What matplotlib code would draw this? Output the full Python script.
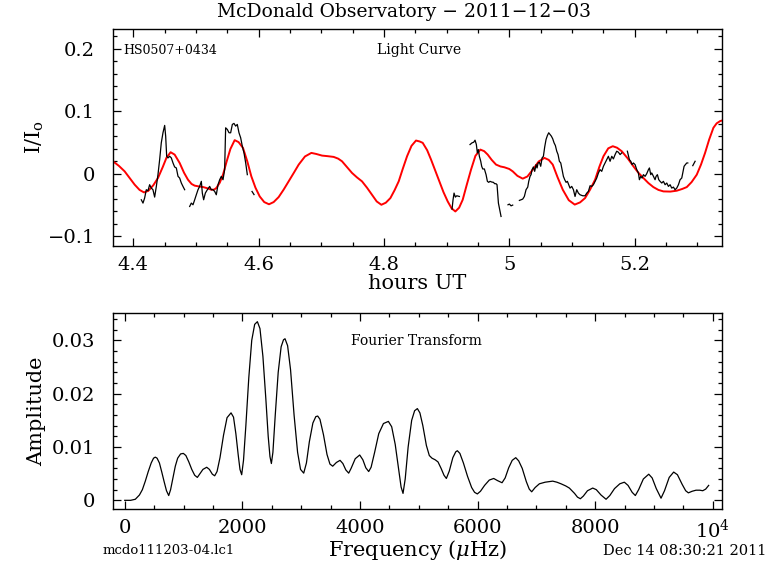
import numpy as np
import matplotlib
matplotlib.use("Agg")
import matplotlib.pyplot as plt
from matplotlib.ticker import MultipleLocator

# light curve model (red), hours UT vs I/I0
model_hours = [4.3676, 4.3770, 4.3862, 4.3945, 4.4022, 4.4100, 4.4171, 4.4240, 4.4320,
               4.4394, 4.4470, 4.4530, 4.4596, 4.4660, 4.4740, 4.4810, 4.4873, 4.4930,
               4.4980, 4.5050, 4.5113, 4.5180, 4.5245, 4.5290, 4.5325, 4.5380, 4.5432,
               4.5490, 4.5550, 4.5618, 4.5680, 4.5751, 4.5820, 4.5884, 4.5950, 4.6018,
               4.6090, 4.6166, 4.6240, 4.6320, 4.6400, 4.6480, 4.6560, 4.6640, 4.6740,
               4.6842, 4.6920, 4.7012, 4.7100, 4.7198, 4.7270, 4.7331, 4.7410, 4.7491,
               4.7570, 4.7650, 4.7730, 4.7810, 4.7885, 4.7959, 4.8030, 4.8103, 4.8170,
               4.8236, 4.8300, 4.8369, 4.8440, 4.8512, 4.8570, 4.8619, 4.8690, 4.8752,
               4.8820, 4.8885, 4.8950, 4.9018, 4.9080, 4.9140, 4.9200, 4.9257, 4.9320,
               4.9390, 4.9460, 4.9539, 4.9600, 4.9656, 4.9720, 4.9789, 4.9860, 4.9922,
               5.0000, 5.0055, 5.0130, 5.0215, 5.0290, 5.0375, 5.0470, 5.0561, 5.0630,
               5.0694, 5.0770, 5.0854, 5.0950, 5.1045, 5.1130, 5.1210, 5.1290, 5.1370,
               5.1440, 5.1503, 5.1580, 5.1652, 5.1720, 5.1795, 5.1890, 5.1981, 5.2060,
               5.2141, 5.2220, 5.2300, 5.2380, 5.2460, 5.2570, 5.2673, 5.2760, 5.2833,
               5.2910, 5.2992, 5.3060, 5.3125, 5.3190, 5.3258, 5.3310, 5.3365, 5.3400]
model_flux = [0.0203, 0.0130, 0.0042, -0.0070, -0.0171, -0.0255, -0.0295, -0.0270, -0.0180,
              -0.0065, 0.0110, 0.0260, 0.0348, 0.0310, 0.0176, 0.0020, -0.0092, -0.0160,
              -0.0187, -0.0200, -0.0209, -0.0228, -0.0252, -0.0250, -0.0225, -0.0140, -0.0011,
              0.0200, 0.0400, 0.0541, 0.0510, 0.0417, 0.0200, -0.0038, -0.0220, -0.0360,
              -0.0450, -0.0485, -0.0450, -0.0370, -0.0250, -0.0118, 0.0015, 0.0150, 0.0280,
              0.0337, 0.0320, 0.0294, 0.0285, 0.0273, 0.0245, 0.0203, 0.0110, 0.0016,
              -0.0055, -0.0118, -0.0220, -0.0333, -0.0440, -0.0493, -0.0460, -0.0386, -0.0260,
              -0.0118, 0.0080, 0.0283, 0.0450, 0.0535, 0.0520, 0.0498, 0.0380, 0.0230,
              0.0050, -0.0118, -0.0290, -0.0440, -0.0550, -0.0600, -0.0540, -0.0413, -0.0180,
              0.0069, 0.0290, 0.0390, 0.0365, 0.0310, 0.0225, 0.0150, 0.0120, 0.0107,
              0.0080, 0.0042, -0.0030, -0.0075, -0.0040, 0.0069, 0.0200, 0.0257, 0.0225,
              0.0150, -0.0050, -0.0252, -0.0420, -0.0490, -0.0455, -0.0386, -0.0250, -0.0091,
              0.0120, 0.0283, 0.0410, 0.0444, 0.0420, 0.0364, 0.0250, 0.0123, 0.0020,
              -0.0065, -0.0145, -0.0210, -0.0255, -0.0279, -0.0282, -0.0268, -0.0240, -0.0210,
              -0.0130, -0.0012, 0.0150, 0.0337, 0.0550, 0.0739, 0.0810, 0.0846, 0.0857]

# observed light curve (black), one list per continuous stretch
obs_hours = [
    [4.4128, 4.4155, 4.4181, 4.4208, 4.4235, 4.4261, 4.4288, 4.4314, 4.4341,
     4.4368, 4.4394, 4.4421, 4.4447, 4.4474, 4.4501, 4.4517, 4.4533, 4.4554,
     4.4581, 4.4607, 4.4634, 4.4660, 4.4687, 4.4714, 4.4740, 4.4767, 4.4793,
     4.4820],
    [4.4900, 4.4926, 4.4953, 4.4980, 4.5006, 4.5033, 4.5059, 4.5086, 4.5102,
     4.5123, 4.5150, 4.5182, 4.5219, 4.5245, 4.5272, 4.5299, 4.5325, 4.5352,
     4.5379, 4.5405, 4.5432, 4.5458, 4.5474, 4.5501, 4.5528, 4.5554, 4.5581,
     4.5607, 4.5634, 4.5660, 4.5687, 4.5714, 4.5740, 4.5767, 4.5794, 4.5820],
    [4.5895, 4.5927],
    [4.9087, 4.9103, 4.9119, 4.9140, 4.9162, 4.9204],
    [4.9374, 4.9406, 4.9433, 4.9454, 4.9475, 4.9491, 4.9507, 4.9523, 4.9545,
     4.9560, 4.9577, 4.9603, 4.9630, 4.9651, 4.9672, 4.9693, 4.9720, 4.9747,
     4.9768, 4.9789, 4.9805, 4.9827, 4.9848, 4.9869],
    [4.9980, 5.0002, 5.0029, 5.0055],
    [5.0162, 5.0188, 5.0215, 5.0241, 5.0268, 5.0295, 5.0311, 5.0332, 5.0348,
     5.0364, 5.0385, 5.0406, 5.0428, 5.0444, 5.0460, 5.0481, 5.0502, 5.0524,
     5.0545, 5.0566, 5.0587, 5.0609, 5.0630, 5.0651, 5.0672, 5.0694, 5.0715,
     5.0736, 5.0758, 5.0779, 5.0800, 5.0822, 5.0843, 5.0864, 5.0885, 5.0907,
     5.0928, 5.0949, 5.0970, 5.0997, 5.1024, 5.1050, 5.1077, 5.1103, 5.1130,
     5.1173, 5.1210, 5.1237, 5.1263, 5.1290, 5.1316, 5.1343, 5.1370, 5.1396,
     5.1423, 5.1449, 5.1476, 5.1503, 5.1529, 5.1556, 5.1582, 5.1609, 5.1636,
     5.1662, 5.1689, 5.1715, 5.1742, 5.1769, 5.1795],
    [5.1885, 5.1917, 5.1939, 5.1960, 5.1981, 5.2008, 5.2035, 5.2061, 5.2077,
     5.2099, 5.2120, 5.2141, 5.2168, 5.2194, 5.2221, 5.2237, 5.2258, 5.2274,
     5.2301, 5.2327, 5.2343, 5.2364, 5.2386, 5.2407, 5.2434, 5.2460, 5.2487,
     5.2514, 5.2540, 5.2567, 5.2593, 5.2620, 5.2646, 5.2673, 5.2700, 5.2726,
     5.2753, 5.2769, 5.2790, 5.2811, 5.2833, 5.2849],
    [5.2929, 5.2966],
]
obs_flux = [
    [-0.0413, -0.0466, -0.0386, -0.0252, -0.0268, -0.0172, -0.0226, -0.0252,
     -0.0370, -0.0199, -0.0011, 0.0230, 0.0498, 0.0659, 0.0777, 0.0605, 0.0283,
     0.0257, 0.0283, 0.0257, 0.0176, 0.0112, 0.0096, -0.0038, -0.0065, -0.0145,
     -0.0199, -0.0252],
    [-0.0520, -0.0466, -0.0493, -0.0413, -0.0333, -0.0252, -0.0199, -0.0118,
     -0.0306, -0.0413, -0.0306, -0.0252, -0.0199, -0.0252, -0.0252, -0.0279,
     -0.0333, -0.0172, -0.0092, -0.0038, -0.0092, 0.0069, 0.0739, 0.0712,
     0.0659, 0.0659, 0.0793, 0.0809, 0.0766, 0.0793, 0.0659, 0.0578, 0.0444,
     0.0337, 0.0176, -0.0011],
    [-0.0280, -0.0330],
    [-0.0563, -0.0413, -0.0306, -0.0370, -0.0349, -0.0360],
    [0.0471, 0.0498, 0.0508, 0.0541, 0.0471, 0.0337, 0.0390, 0.0283, 0.0203,
     0.0123, 0.0080, 0.0080, -0.0011, -0.0118, -0.0134, -0.0118, -0.0129,
     -0.0134, -0.0156, -0.0156, -0.0172, -0.0466, -0.0573, -0.0680],
    [-0.0493, -0.0482, -0.0510, -0.0498],
    [-0.0423, -0.0413, -0.0402, -0.0360, -0.0252, -0.0210, -0.0118, -0.0038,
     -0.0011, 0.0069, 0.0112, 0.0042, 0.0150, 0.0096, 0.0176, 0.0187, 0.0123,
     0.0257, 0.0283, 0.0434, 0.0551, 0.0616, 0.0659, 0.0632, 0.0605, 0.0562,
     0.0498, 0.0455, 0.0364, 0.0310, 0.0203, 0.0176, 0.0069, -0.0038, -0.0092,
     -0.0134, -0.0118, -0.0172, -0.0226, -0.0199, -0.0252, -0.0360, -0.0252,
     -0.0306, -0.0333, -0.0349, -0.0349, -0.0306, -0.0279, -0.0188, -0.0199,
     -0.0172, -0.0118, -0.0065, 0.0016, 0.0069, 0.0042, 0.0123, 0.0176, 0.0230,
     0.0283, 0.0203, 0.0283, 0.0241, 0.0310, 0.0364, 0.0348, 0.0310, 0.0337],
    [0.0364, 0.0230, 0.0203, 0.0150, 0.0176, 0.0150, 0.0069, 0.0016, -0.0092,
     -0.0038, -0.0065, -0.0011, -0.0038, 0.0005, 0.0069, 0.0096, -0.0011,
     0.0016, -0.0038, -0.0092, -0.0038, -0.0011, -0.0092, -0.0118, -0.0145,
     -0.0118, -0.0172, -0.0145, -0.0199, -0.0172, -0.0226, -0.0210, -0.0252,
     -0.0226, -0.0172, -0.0092, -0.0065, 0.0016, 0.0123, 0.0150, 0.0176,
     0.0176],
    [0.0133, 0.0203],
]

# Fourier transform, frequency (uHz) vs amplitude
ft_freq = [0, 100, 180, 250, 300, 350, 400, 450, 490, 520, 550, 590, 630, 670, 710,
           748, 780, 820, 860, 900, 950, 997, 1040, 1090, 1140, 1190, 1235, 1280,
           1330, 1394, 1440, 1490, 1530, 1570, 1620, 1680, 1740, 1808, 1850, 1890,
           1930, 1960, 1989, 2020, 2060, 2110, 2160, 2210, 2256, 2300, 2350, 2400,
           2440, 2470, 2494, 2520, 2560, 2610, 2660, 2700, 2726, 2770, 2820, 2880,
           2940, 2990, 3044, 3090, 3140, 3200, 3250, 3282, 3320, 3380, 3440, 3490,
           3537, 3600, 3662, 3710, 3760, 3809, 3850, 3920, 3996, 4050, 4100, 4149,
           4190, 4250, 4320, 4400, 4484, 4540, 4600, 4650, 4700, 4733, 4770, 4820,
           4880, 4930, 4977, 5020, 5070, 5130, 5180, 5226, 5280, 5328, 5380, 5430,
           5470, 5520, 5580, 5630, 5657, 5700, 5760, 5830, 5900, 5950, 5997, 6050,
           6120, 6200, 6275, 6340, 6417, 6470, 6530, 6590, 6650, 6700, 6760, 6830,
           6880, 6921, 6980, 7052, 7150, 7279, 7350, 7420, 7500, 7562, 7650, 7700,
           7749, 7800, 7870, 7959, 8020, 8100, 8186, 8250, 8330, 8420, 8497, 8560,
           8630, 8684, 8740, 8820, 8912, 8970, 9040, 9121, 9180, 9260, 9336, 9400,
           9480, 9540, 9586, 9650, 9716, 9780, 9830, 9880, 9931]
ft_amp = [0.0000, 0.0000, 0.0002, 0.0010, 0.0020, 0.0036, 0.0054, 0.0070, 0.0079,
          0.0081, 0.0079, 0.0070, 0.0053, 0.0035, 0.0018, 0.0009, 0.0020, 0.0042,
          0.0064, 0.0079, 0.0087, 0.0088, 0.0084, 0.0072, 0.0058, 0.0047, 0.0043,
          0.0050, 0.0058, 0.0062, 0.0058, 0.0049, 0.0046, 0.0054, 0.0080, 0.0122,
          0.0155, 0.0164, 0.0156, 0.0125, 0.0085, 0.0058, 0.0048, 0.0075, 0.0140,
          0.0230, 0.0300, 0.0330, 0.0335, 0.0322, 0.0270, 0.0190, 0.0120, 0.0082,
          0.0069, 0.0090, 0.0160, 0.0240, 0.0288, 0.0301, 0.0303, 0.0290, 0.0245,
          0.0160, 0.0090, 0.0058, 0.0051, 0.0070, 0.0110, 0.0145, 0.0157, 0.0158,
          0.0152, 0.0123, 0.0086, 0.0068, 0.0064, 0.0071, 0.0075, 0.0069, 0.0057,
          0.0051, 0.0060, 0.0078, 0.0085, 0.0076, 0.0061, 0.0054, 0.0062, 0.0090,
          0.0125, 0.0144, 0.0148, 0.0138, 0.0105, 0.0065, 0.0025, 0.0013, 0.0040,
          0.0100, 0.0150, 0.0168, 0.0172, 0.0164, 0.0140, 0.0103, 0.0084, 0.0079,
          0.0076, 0.0072, 0.0060, 0.0047, 0.0041, 0.0055, 0.0080, 0.0091, 0.0093,
          0.0088, 0.0070, 0.0045, 0.0024, 0.0015, 0.0012, 0.0017, 0.0028, 0.0038,
          0.0041, 0.0037, 0.0033, 0.0042, 0.0061, 0.0075, 0.0080, 0.0074, 0.0060,
          0.0035, 0.0021, 0.0016, 0.0024, 0.0031, 0.0034, 0.0036, 0.0034, 0.0031,
          0.0027, 0.0023, 0.0013, 0.0006, 0.0003, 0.0008, 0.0018, 0.0023, 0.0020,
          0.0010, 0.0002, 0.0009, 0.0022, 0.0031, 0.0034, 0.0028, 0.0015, 0.0009,
          0.0020, 0.0040, 0.0049, 0.0042, 0.0022, 0.0004, 0.0018, 0.0043, 0.0053,
          0.0048, 0.0030, 0.0018, 0.0014, 0.0017, 0.0019, 0.0019, 0.0018, 0.0021,
          0.0028]

lc_ticks = [4.4, 4.6, 4.8, 5.0, 5.2]
lc_ticklabels = ["4.4", "4.6", "4.8", "5", "5.2"]
flux_ticks = [-0.1, 0, 0.1, 0.2]
flux_ticklabels = ["\u22120.1", "0", "0.1", "0.2"]
ft_ticks = [0, 2000, 4000, 6000, 8000, 10000]
ft_ticklabels = ["0", "2000", "4000", "6000", "8000", "10$^4$"]
amp_ticks = [0, 0.01, 0.02, 0.03]
amp_ticklabels = ["0", "0.01", "0.02", "0.03"]

plt.rcParams["font.family"] = ["DejaVu Serif"]
plt.rcParams["mathtext.fontset"] = "dejavuserif"

fig = plt.figure(figsize=(7.68, 5.74), dpi=100)
ax1 = fig.add_axes([0.1471, 0.5714, 0.7934, 0.3781])
ax2 = fig.add_axes([0.1471, 0.1132, 0.7934, 0.3420])


def style_axes(ax):
    for sp in ax.spines.values():
        sp.set_linewidth(1.0)
    ax.tick_params(which="both", direction="in", top=True, right=True,
                   width=0.9, labelsize=14)
    ax.tick_params(which="major", length=6)
    ax.tick_params(axis="x", which="major", pad=7)
    ax.tick_params(axis="y", which="major", pad=13)
    ax.tick_params(which="minor", length=3)


ax1.plot(model_hours, model_flux, color="#ff0000", lw=1.4)
for h, f in zip(obs_hours, obs_flux):
    ax1.plot(h, f, color="black", lw=0.9)
ax1.set_xlim(4.3676, 5.34)
ax1.set_ylim(-0.1153, 0.232)
ax1.set_xticks(lc_ticks, lc_ticklabels)
ax1.set_yticks(flux_ticks, flux_ticklabels)
ax1.xaxis.set_minor_locator(MultipleLocator(0.05))
ax1.yaxis.set_minor_locator(MultipleLocator(0.02))
style_axes(ax1)
ax1.set_xlabel("hours UT", fontsize=15, labelpad=0)
ax1.set_ylabel("I/I$_{\\rm o}$", fontsize=15, labelpad=1)
ax1.text(0.0164, 0.903, "HS0507+0434", transform=ax1.transAxes, fontsize=9,
         va="center")
ax1.text(0.433, 0.903, "Light Curve", transform=ax1.transAxes, fontsize=10,
         va="center")

ax2.plot(ft_freq, ft_amp, color="black", lw=0.9)
ax2.set_xlim(-200, 10163)
ax2.set_ylim(-0.00163, 0.03518)
ax2.set_xticks(ft_ticks, ft_ticklabels)
ax2.set_yticks(amp_ticks, amp_ticklabels)
ax2.xaxis.set_minor_locator(MultipleLocator(500))
ax2.yaxis.set_minor_locator(MultipleLocator(0.002))
style_axes(ax2)
ax2.set_xlabel("Frequency ($\\mu$Hz)", fontsize=15, labelpad=-3)
ax2.set_ylabel("Amplitude", fontsize=15, labelpad=4)
ax2.text(0.391, 0.856, "Fourier Transform", transform=ax2.transAxes, fontsize=10,
         va="center")

fig.text(404 / 768, 1 - 12 / 574, "McDonald Observatory \u2212 2011\u221212\u221203",
         ha="center", va="center", fontsize=13.5)
fig.text(103 / 768, 1 - 551 / 574, "mcdo111203-04.lc1", ha="left", va="center",
         fontsize=9.5)
fig.text(766 / 768, 1 - 551 / 574, "Dec 14 08:30:21 2011", ha="right", va="center",
         fontsize=10.5)

fig.savefig("out.png", dpi=100)
